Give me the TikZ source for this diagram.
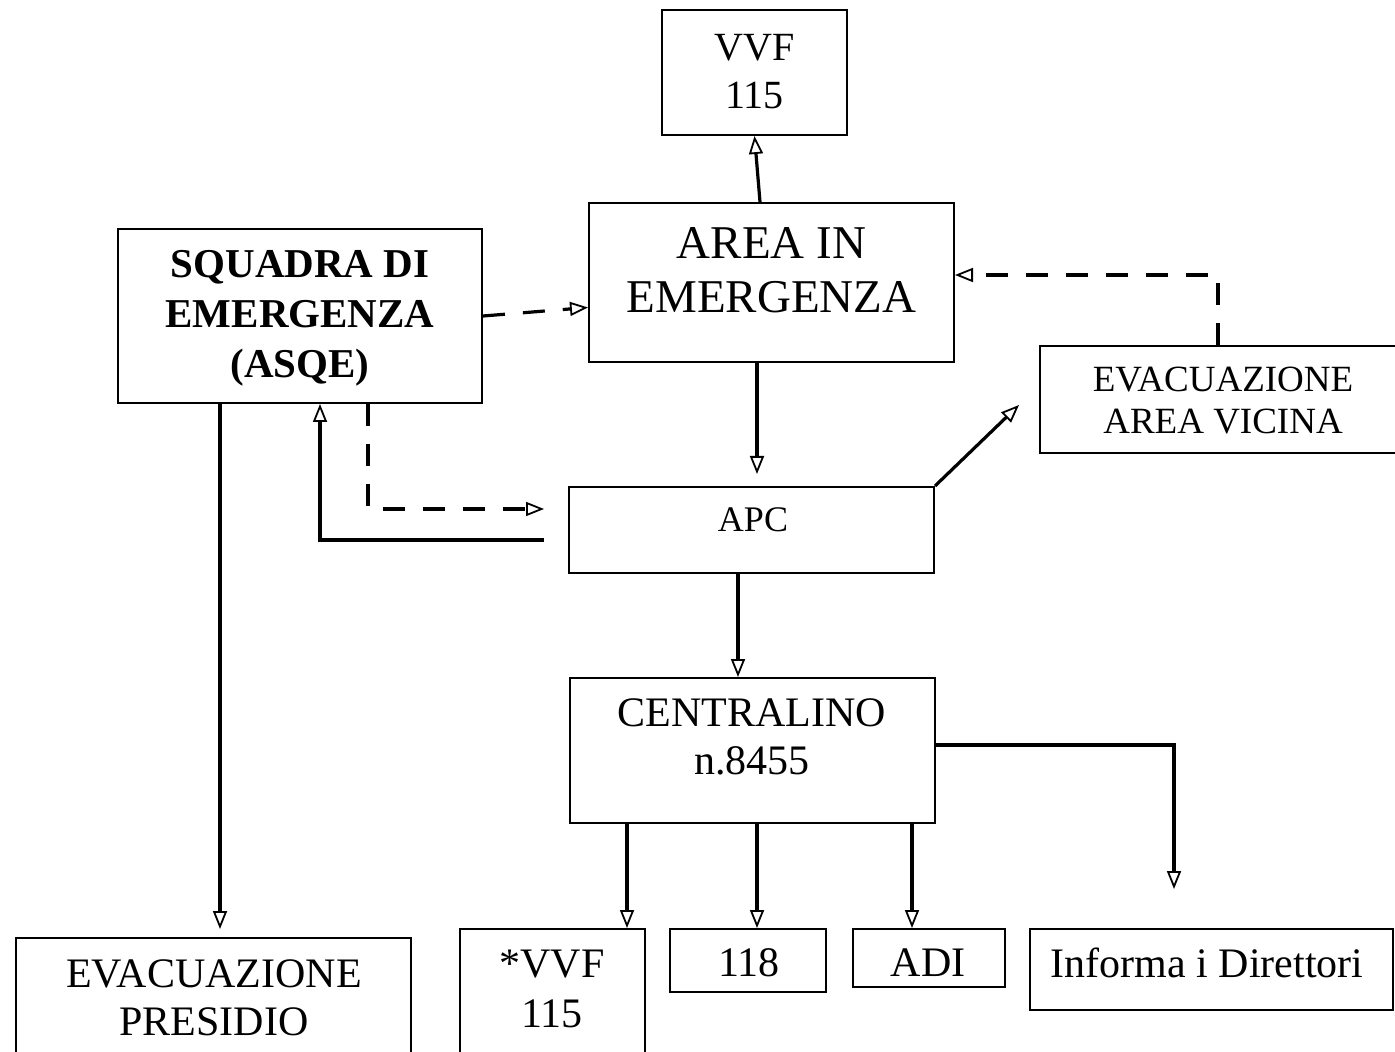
\documentclass[tikz,border=0pt]{standalone}
\usepackage{fontspec}
\setmainfont{Liberation Serif}
\usetikzlibrary{arrows.meta,calc}
\begin{document}
\begin{tikzpicture}[x=0.5pt,y=-0.5pt,
  box/.style={draw, line width=1pt, rectangle, inner sep=0pt},
  lbl/.style={align=center, inner sep=0pt},
  arr/.style={line width=1.6pt, -{Triangle[open,length=9pt,width=7pt,line width=0.9pt]}},
  darr/.style={arr, dash pattern=on 11pt off 9pt}]
\clip (0,0) rectangle (1395,1052);
\fill[white] (0,0) rectangle (1395,1052);
% boxes
\node[box, minimum width=92.5pt, minimum height=62.5pt] (vvf) at (754.5,72.5) {};
\node[box, minimum width=182.5pt, minimum height=79.5pt] (area) at (771.5,282.5) {};
\node[box, minimum width=182pt, minimum height=87pt] (squadra) at (300,316) {};
\node[box, minimum width=185pt, minimum height=53.5pt] (evac) at (1225,399.5) {};
\node[box, minimum width=182.5pt, minimum height=43pt] (apc) at (751.5,530) {};
\node[box, minimum width=182.5pt, minimum height=72.5pt] (centralino) at (752.5,750.5) {};
\node[box, minimum width=197.5pt, minimum height=71pt] (presidio) at (213.5,1009) {};
\node[box, minimum width=92.5pt, minimum height=75.5pt] (svvf) at (552.5,1004.5) {};
\node[box, minimum width=78pt, minimum height=31.5pt] (n118) at (748,960.5) {};
\node[box, minimum width=76pt, minimum height=29pt] (adi) at (929,958) {};
\node[box, minimum width=181.5pt, minimum height=40.5pt] (informa) at (1211.5,969.5) {};
% labels
\node[lbl, font=\fontsize{20}{24}\selectfont] (vvfT) at (754.5,72) {VVF\\115};
\node[lbl, font=\fontsize{23.5}{27}\selectfont] (areaT) at (771.5,270) {AREA IN\\EMERGENZA};
\node[lbl, font=\fontsize{20.5}{25}\selectfont\bfseries] (squadraT) at (300,318) {SQUADRA DI\\EMERGENZA\\(ASQE)};
\node[lbl, font=\fontsize{18.5}{21}\selectfont] (evacT) at (1223,401) {EVACUAZIONE\\AREA VICINA};
\node[lbl, font=\fontsize{18}{21}\selectfont] (apcT) at (753,520) {APC};
\node[lbl, font=\fontsize{21}{24}\selectfont] (centralinoT) at (752,737) {CENTRALINO\\n.8455};
\node[lbl, font=\fontsize{21}{24}\selectfont] (presidioT) at (214,998) {EVACUAZIONE\\PRESIDIO};
\node[lbl, font=\fontsize{21}{25}\selectfont] (svvfT) at (552,989) {*VVF\\115};
\node[lbl, font=\fontsize{21}{24}\selectfont] (n118T) at (749,963) {118};
\node[lbl, font=\fontsize{21}{24}\selectfont] (adiT) at (928,963) {ADI};
\node[lbl, font=\fontsize{21}{24}\selectfont] (informaT) at (1207,963) {Informa i Direttori};
% connectors
\draw[arr] ($(area.north)+(-11.5,0)$) -- (vvf.south);
\draw[darr] (squadra.east) -- ($(area.west)+(0,25)$);
\draw[darr] ($(evac.north)+(-7,0)$) |- ($(area.east)+(0,-7.5)$);
\draw[arr, shorten >=6pt] ($(area.south)+(-14.5,0)$) -- ($(apc.north)+(5.5,0)$);
\draw[arr] (apc.north east) -- ($(evac.west)+(-20,5.5)$);
\draw[darr] ($(squadra.south)+(68,0)$) |- ($(apc.west)+(-24,-21)$);
\draw[arr] ($(apc.west)+(-24,10)$) -| ($(squadra.south)+(20,0)$);
\draw[arr] ($(squadra.south)+(-80,0)$) -- ($(presidio.north)+(6.5,-8)$);
\draw[arr] ($(apc.south)+(-13.5,0)$) -- ($(centralino.north)+(-14.5,0)$);
\draw[arr] ($(centralino.south)+(-125.5,0)$) -- ($(svvf.north)+(74.5,0)$);
\draw[arr] ($(centralino.south)+(4.5,0)$) -- ($(n118.north)+(9,0)$);
\draw[arr] ($(centralino.south)+(159.5,0)$) -- ($(adi.north)+(-17,0)$);
\draw[arr] ($(centralino.east)+(0,-5.5)$) -| ($(informa.north)+(-37.5,-39)$);
\end{tikzpicture}
\end{document}
